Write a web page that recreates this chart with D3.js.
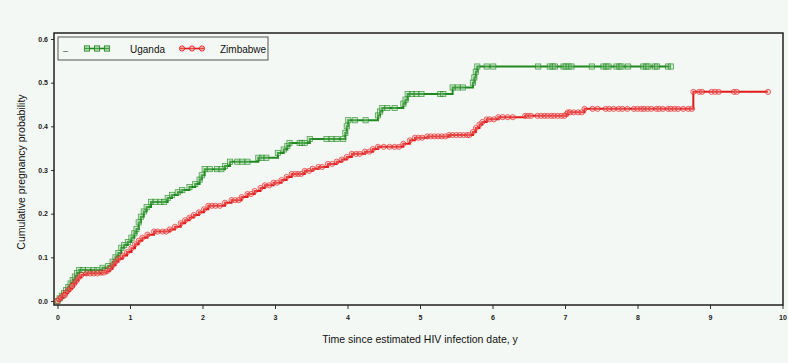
<!DOCTYPE html>
<html><head><meta charset="utf-8">
<script src="https://cdn.jsdelivr.net/npm/d3@7"></script>
<style>
html,body{margin:0;padding:0;background:#f4f8f4;}
svg{display:block;}
text{font-family:"Liberation Sans",Arial,sans-serif;}
</style></head>
<body>
<svg id="c" width="788" height="363"></svg>
<script>
// ---- data ----
const seriesNames = ["Uganda", "Zimbabwe"];
const xTicks = [0,1,2,3,4,5,6,7,8,9,10];
const yTicks = [0.0,0.1,0.2,0.3,0.4,0.5,0.6];
const yTickLabels = ["0.0","0.1","0.2","0.3","0.4","0.5","0.6"];

const ugandaTime = [0,0.03,0.06,0.09,0.12,0.15,0.18,0.21,0.24,0.27,0.30,0.62,0.70,0.76,0.80,0.84,0.88,0.92,0.97,1.02,1.06,1.09,1.12,1.15,1.19,1.23,1.29,1.52,1.58,1.66,1.72,1.82,1.90,1.96,1.99,2.03,2.31,2.38,2.77,3.04,3.12,3.17,3.20,3.48,3.97,3.99,4.01,4.42,4.45,4.48,4.77,4.80,4.83,5.45,5.73,5.75,5.77,5.79];
const ugandaProb = [0,0.006,0.012,0.018,0.025,0.032,0.040,0.048,0.056,0.064,0.071,0.076,0.080,0.090,0.100,0.110,0.122,0.128,0.135,0.145,0.155,0.165,0.180,0.193,0.205,0.215,0.227,0.236,0.243,0.249,0.254,0.261,0.268,0.278,0.288,0.302,0.309,0.319,0.328,0.339,0.347,0.355,0.362,0.371,0.385,0.400,0.414,0.425,0.434,0.442,0.452,0.461,0.474,0.489,0.500,0.512,0.525,0.537];
const ugandaCensor = [0.35,0.42,0.50,0.55,1.35,1.42,1.47,2.10,2.20,2.26,2.48,2.55,2.62,2.82,2.88,3.34,3.37,3.41,3.71,3.78,3.85,3.94,4.10,4.25,4.55,4.65,4.89,4.95,5.02,5.28,5.32,5.52,5.59,5.92,6.01,6.63,6.79,6.83,6.86,6.98,7.01,7.05,7.09,7.37,7.53,7.57,7.60,7.71,7.75,7.78,7.87,8.08,8.12,8.15,8.24,8.27,8.42,8.46];

const zimTime = [0,0.02,0.05,0.08,0.11,0.14,0.17,0.20,0.23,0.26,0.29,0.33,0.40,0.60,0.68,0.72,0.76,0.80,0.84,0.90,0.96,1.02,1.07,1.12,1.17,1.24,1.33,1.55,1.62,1.70,1.76,1.82,1.88,1.95,2.02,2.08,2.31,2.40,2.54,2.62,2.72,2.80,2.86,2.98,3.09,3.16,3.23,3.41,3.52,3.60,3.73,3.85,3.92,3.99,4.06,4.24,4.35,4.42,4.77,4.86,4.93,5.10,5.40,5.73,5.77,5.82,5.86,5.92,6.08,6.45,7.02,7.04,7.27,8.77];
const zimProb = [0,0.004,0.008,0.013,0.018,0.023,0.028,0.034,0.040,0.047,0.054,0.060,0.063,0.065,0.068,0.074,0.082,0.090,0.097,0.104,0.112,0.121,0.130,0.138,0.145,0.152,0.159,0.164,0.170,0.178,0.185,0.191,0.197,0.203,0.210,0.218,0.225,0.231,0.238,0.245,0.252,0.259,0.265,0.271,0.277,0.284,0.291,0.298,0.303,0.307,0.314,0.319,0.324,0.330,0.337,0.342,0.348,0.353,0.360,0.368,0.374,0.377,0.380,0.387,0.396,0.404,0.410,0.416,0.421,0.424,0.428,0.432,0.440,0.479];
const zimCensor = [0.10,0.20,0.45,0.50,0.55,0.64,1.38,1.45,1.50,2.13,2.18,2.24,2.45,2.50,2.67,2.92,3.03,3.28,3.32,3.36,3.47,3.65,3.79,4.12,4.17,4.30,4.50,4.58,4.65,4.71,4.98,5.03,5.15,5.20,5.25,5.30,5.35,5.45,5.50,5.55,5.60,5.65,5.68,5.96,6.02,6.14,6.21,6.28,6.49,6.53,6.62,6.67,6.72,6.76,6.81,6.85,6.90,6.95,6.99,7.07,7.12,7.18,7.23,7.38,7.45,7.56,7.61,7.67,7.74,7.79,7.86,7.95,8.00,8.05,8.09,8.14,8.19,8.26,8.30,8.35,8.42,8.46,8.51,8.56,8.63,8.70,8.75,8.85,8.89,9.02,9.07,9.12,9.33,9.37,9.80];

// ---- layout ----
const svg = d3.select("#c");
const frame = {l:54, t:33, r:783, b:305};
const x = d3.scaleLinear().domain([0,10]).range([57.5,782.5]);
const y = d3.scaleLinear().domain([0,0.6]).range([301,39]);

const green = "#1f8a1f", greenFill = "rgba(140,200,140,0.35)";
const red = "#e31a1a", redFill = "rgba(240,150,150,0.35)";

// axes
const xAxis = d3.axisBottom(x).tickValues(xTicks).tickSize(4).tickPadding(6).tickFormat(d3.format("d"));
const gx = svg.append("g").attr("transform",`translate(0,${frame.b})`).call(xAxis);
gx.select(".domain").remove();
gx.selectAll("text").attr("font-size",7).attr("font-weight","bold").attr("fill","#222");
gx.selectAll("line").attr("stroke","#333");

const yAxis = d3.axisLeft(y).tickValues(yTicks).tickSize(3).tickPadding(3).tickFormat((d,i)=>yTickLabels[i]);
const gy = svg.append("g").attr("transform",`translate(${frame.l},0)`).call(yAxis);
gy.select(".domain").remove();
gy.selectAll("text").attr("font-size",7).attr("font-weight","bold").attr("fill","#222");
gy.selectAll("line").attr("stroke","#333");

// frame
svg.append("rect").attr("x",frame.l).attr("y",frame.t).attr("width",frame.r-frame.l).attr("height",frame.b-frame.t)
  .attr("fill","none").attr("stroke","#111").attr("stroke-width",1.4);

// axis titles
svg.append("text").attr("x",420).attr("y",343).attr("text-anchor","middle").attr("font-size",10.5).attr("fill","#111")
  .text("Time since estimated HIV infection date, y");
svg.append("text").attr("transform","translate(25,172) rotate(-90)").attr("text-anchor","middle").attr("font-size",10.5).attr("fill","#111")
  .text("Cumulative pregnancy probability");

function probAt(times, probs, t){
  let p = 0;
  for(let i=0;i<times.length;i++){ if(times[i] <= t) p = probs[i]; }
  return p;
}

function drawSeries(times, probs, censor, color, fill, shape){
  const end = d3.max(censor.concat(times));
  const pts = times.map((t,i)=>[t,probs[i]]);
  pts.push([end, probAt(times, probs, end)]);
  const line = d3.line().x(d=>x(d[0])).y(d=>y(d[1])).curve(d3.curveStepAfter);
  svg.append("path").datum(pts).attr("d",line).attr("fill","none").attr("stroke",color).attr("stroke-width",2);
  const marks = times.map((t,i)=>[t,probs[i]]).concat(censor.map(t=>[t, probAt(times, probs, t)]));
  const g = svg.append("g");
  if(shape==="square"){
    g.selectAll("rect").data(marks).join("rect")
      .attr("x",d=>x(d[0])-2.6).attr("y",d=>y(d[1])-2.6).attr("width",5.2).attr("height",5.2)
      .attr("fill",fill).attr("stroke",color).attr("stroke-width",0.8).attr("stroke-opacity",0.75);
  } else {
    g.selectAll("circle").data(marks).join("circle")
      .attr("cx",d=>x(d[0])).attr("cy",d=>y(d[1])).attr("r",2.6)
      .attr("fill",fill).attr("stroke",color).attr("stroke-width",0.8).attr("stroke-opacity",0.75);
  }
}

drawSeries(ugandaTime, ugandaProb, ugandaCensor, green, greenFill, "square");
drawSeries(zimTime, zimProb, zimCensor, red, redFill, "circle");

// legend
const lg = svg.append("g");
lg.append("rect").attr("x",58).attr("y",37).attr("width",210).attr("height",23)
  .attr("fill","#f4f8f4").attr("stroke","#555").attr("stroke-width",1);
lg.append("text").attr("x",63).attr("y",53).attr("font-size",5).attr("font-weight","bold").attr("fill","#333").text("—");
const legendItems = [
  {name:seriesNames[0], color:green, fill:greenFill, shape:"square", x0:85, tx:130},
  {name:seriesNames[1], color:red, fill:redFill, shape:"circle", x0:180, tx:220}
];
legendItems.forEach(it=>{
  lg.append("line").attr("x1",it.x0).attr("x2",it.x0+24).attr("y1",48.5).attr("y2",48.5).attr("stroke",it.color).attr("stroke-width",1.6);
  [2,12,22].forEach(dx=>{
    if(it.shape==="square"){
      lg.append("rect").attr("x",it.x0+dx-2.6).attr("y",48.5-2.6).attr("width",5.2).attr("height",5.2)
        .attr("fill",it.fill).attr("stroke",it.color).attr("stroke-width",0.9);
    } else {
      lg.append("circle").attr("cx",it.x0+dx).attr("cy",48.5).attr("r",2.6)
        .attr("fill",it.fill).attr("stroke",it.color).attr("stroke-width",0.9);
    }
  });
  lg.append("text").attr("x",it.tx).attr("y",52.5).attr("font-size",10).attr("fill","#111").text(it.name);
});
</script>
</body></html>
